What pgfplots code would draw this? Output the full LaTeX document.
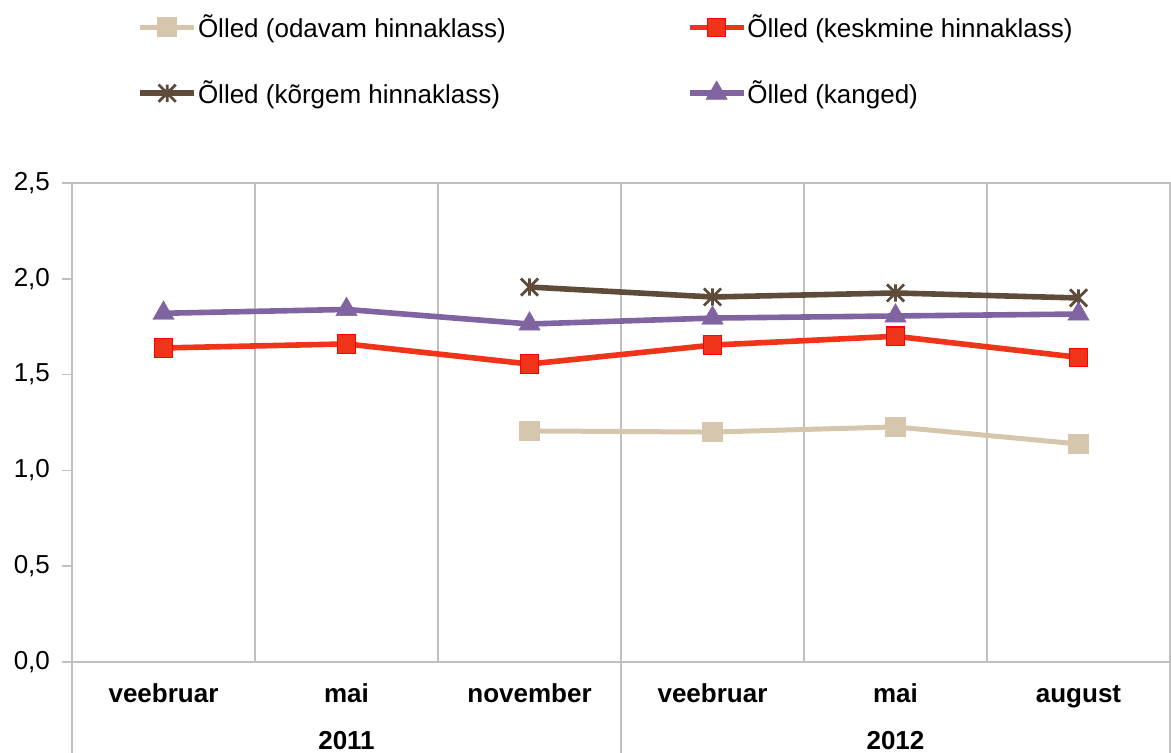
\documentclass[border=0pt]{standalone}
\usepackage{fontspec}
\setmainfont{Liberation Sans}
\usepackage{pgfplots}
\pgfplotsset{compat=1.18}
\definecolor{ctan}{RGB}{215,198,174}
\definecolor{cred}{RGB}{240,52,26}
\definecolor{cbrown}{RGB}{95,75,57}
\definecolor{cpurple}{RGB}{128,100,162}
\definecolor{cgrid}{RGB}{192,192,192}
\pgfdeclareplotmark{xstar}{%
  \pgfpathmoveto{\pgfqpoint{-\pgfplotmarksize}{-\pgfplotmarksize}}%
  \pgfpathlineto{\pgfqpoint{\pgfplotmarksize}{\pgfplotmarksize}}%
  \pgfpathmoveto{\pgfqpoint{-\pgfplotmarksize}{\pgfplotmarksize}}%
  \pgfpathlineto{\pgfqpoint{\pgfplotmarksize}{-\pgfplotmarksize}}%
  \pgfpathmoveto{\pgfqpoint{0pt}{-\pgfplotmarksize}}%
  \pgfpathlineto{\pgfqpoint{0pt}{\pgfplotmarksize}}%
  \pgfusepathqstroke}
\begin{document}
\begin{tikzpicture}
\path[use as bounding box] (-36pt,-45.5pt) rectangle (549.5pt,331pt);
\begin{axis}[
  at={(0,0)}, anchor=south west,
  scale only axis, width=549pt, height=239.5pt,
  xmin=-0.5, xmax=5.5, ymin=0, ymax=2.5,
  clip=false,
  axis line style={cgrid, line width=0.8pt},
  xtick={0,1,2,3,4,5},
  xticklabels={veebruar,mai,november,veebruar,mai,august},
  xtick style={draw=none},
  minor xtick={0.5,1.5,2.5,3.5,4.5},
  minor x tick style={draw=none},
  xminorgrids,
  minor grid style={cgrid, line width=0.8pt},
  ytick={0,0.5,1,1.5,2,2.5},
  ytick style={cgrid, line width=0.8pt},
  tick align=outside, major tick length=5pt,
  /pgf/number format/.cd, fixed, fixed zerofill, precision=1, use comma, assume math mode=true,
  /pgfplots/.cd,
  ticklabel style={font=\fontsize{13}{15}\selectfont},
  xticklabel style={font=\fontsize{13}{15}\selectfont\bfseries, anchor=base, yshift=-15.5pt},
  yticklabel style={anchor=east, xshift=-2.5pt},
  legend columns=2,
  legend cell align=left,
  legend style={draw=none, fill=none, at={(0.0592,1.361)}, anchor=north west,
    font=\fontsize{13}{15}\selectfont, inner sep=0pt,
    nodes={inner xsep=0.5pt},
    /tikz/every even column/.append style={column sep=90pt},
    row sep=16pt},
  legend image code/.code={\draw[mark repeat=2,mark phase=2,#1] plot coordinates {(0pt,0pt) (13.5pt,0pt) (27pt,0pt)};},
]
\addplot[ctan, line width=2.5pt, mark=square*, mark size=4.8pt, mark options={fill=ctan, draw=ctan, line width=0.5pt}]
  coordinates {(2,1.206) (3,1.200) (4,1.227) (5,1.138)};
\addlegendentry{Õlled (odavam hinnaklass)}
\addplot[cred, line width=2.8pt, mark=square*, mark size=4.6pt, mark options={fill=cred, draw=red, line width=0.6pt}]
  coordinates {(0,1.639) (1,1.660) (2,1.555) (3,1.654) (4,1.700) (5,1.590)};
\addlegendentry{Õlled (keskmine hinnaklass)}
\addplot[cbrown, line width=2.8pt, mark=xstar, mark size=4.3pt, mark options={draw=cbrown, line width=1.4pt}]
  coordinates {(2,1.957) (3,1.905) (4,1.926) (5,1.900)};
\addlegendentry{Õlled (kõrgem hinnaklass)}
\addplot[cpurple, line width=2.8pt, mark=triangle*, mark size=6.2pt, mark options={fill=cpurple, draw=cpurple, line width=0.2pt}]
  coordinates {(0,1.820) (1,1.840) (2,1.764) (3,1.795) (4,1.806) (5,1.816)};
\addlegendentry{Õlled (kanged)}
\draw[cgrid, line width=0.8pt] (axis cs:-0.5,0) -- ([yshift=-45.5pt]axis cs:-0.5,0);
\draw[cgrid, line width=0.8pt] (axis cs:2.5,0) -- ([yshift=-45.5pt]axis cs:2.5,0);
\draw[cgrid, line width=0.8pt] (axis cs:5.5,0) -- ([yshift=-45.5pt]axis cs:5.5,0);
\node[anchor=base, font=\fontsize{13}{15}\selectfont\bfseries, yshift=-44pt] at (axis cs:1,0) {2011};
\node[anchor=base, font=\fontsize{13}{15}\selectfont\bfseries, yshift=-44pt] at (axis cs:4,0) {2012};
\end{axis}
\end{tikzpicture}
\end{document}
